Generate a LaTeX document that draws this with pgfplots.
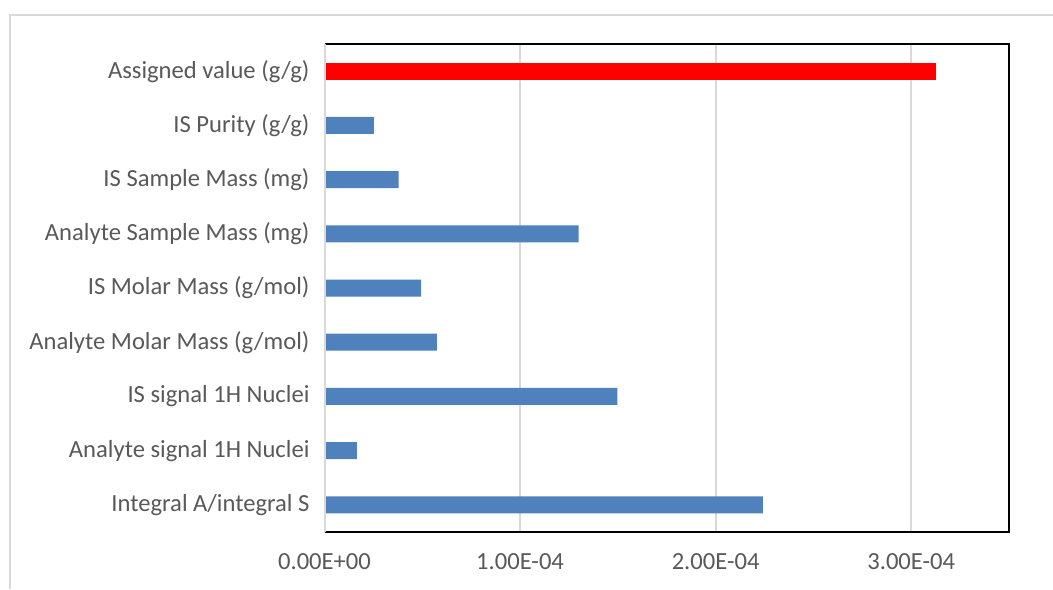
\documentclass[border=0pt]{standalone}
\usepackage{pgfplots}
\pgfplotsset{compat=1.18}
\usepackage{fontspec}
\setmainfont{Carlito}
\definecolor{barblue}{HTML}{4F81BD}
\definecolor{txtgray}{HTML}{595959}
\definecolor{gridgray}{HTML}{D9D9D9}
\begin{document}
\begin{tikzpicture}
\useasboundingbox (0pt,0pt) rectangle (526.5pt,294.5pt);
\fill[white] (0pt,0pt) rectangle (526.5pt,294.5pt);
\draw[gridgray, line width=1.2pt] (5pt,0pt) -- (5pt,287pt) -- (526.5pt,287pt);
\begin{axis}[
  at={(162.25pt,28.5pt)}, anchor=south west,
  scale only axis, width=342.25pt, height=244pt,
  xbar, bar width=8.5pt, bar shift=0pt,
  xmin=0, xmax=3.5e-4, ymin=-0.5, ymax=8.5,
  axis line style={draw=none},
  xtick={0,1e-4,2e-4,3e-4},
  xticklabels={0.00E+00,1.00E-04,2.00E-04,3.00E-04},
  ytick={0,1,2,3,4,5,6,7,8},
  yticklabels={Integral A/integral S, Analyte signal 1H Nuclei, IS signal 1H Nuclei, Analyte Molar Mass (g/mol), IS Molar Mass (g/mol), Analyte Sample Mass (mg), IS Sample Mass (mg), IS Purity (g/g), Assigned value (g/g)},
  tick style={draw=none},
  major tick length=0pt,
  xmajorgrids, major grid style={gridgray, line width=1pt},
  ticklabel style={font=\fontsize{12.3}{14}\selectfont, text=txtgray},
  xticklabel style={yshift=-7pt},
  yticklabel style={xshift=-4pt},
  clip=false,
]
\addplot[fill=barblue, draw=none] coordinates {
  (2.241e-4,0) (0.166e-4,1) (1.498e-4,2) (0.574e-4,3) (0.494e-4,4)
  (1.299e-4,5) (0.379e-4,6) (0.253e-4,7)
};
\addplot[fill=red, draw=none] coordinates {(3.126e-4,8)};
\draw[black, line width=1.1pt] (rel axis cs:0,1) -- (rel axis cs:1,1) -- (rel axis cs:1,0) -- (rel axis cs:0,0);
\draw[gridgray, line width=1pt] (rel axis cs:0,0) -- (rel axis cs:0,1);
\end{axis}
\end{tikzpicture}
\end{document}
